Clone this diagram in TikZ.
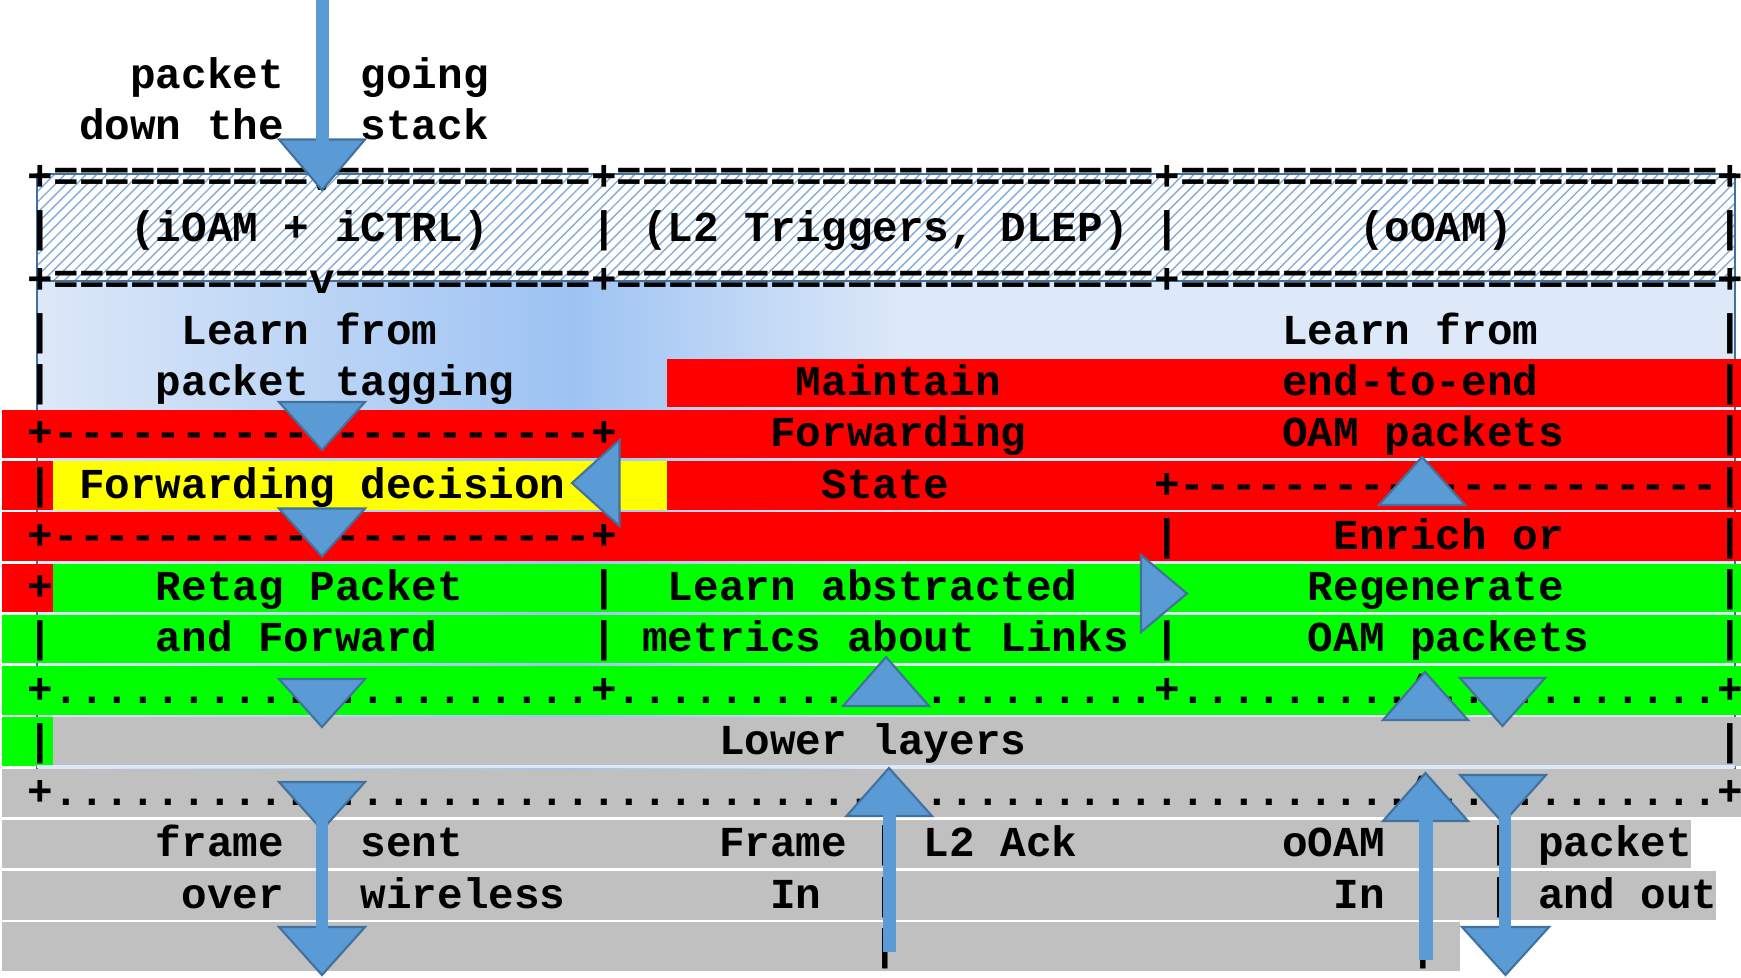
\documentclass[tikz,border=0pt]{standalone}
\usepackage{fontspec}
\setmonofont{Liberation Mono}
\usetikzlibrary{patterns}
\definecolor{arrowfill}{RGB}{91,155,213}
\definecolor{arrowline}{RGB}{65,113,156}
\definecolor{hatchblue}{RGB}{130,172,218}
\definecolor{paleblue}{RGB}{221,232,248}
\definecolor{deepblue}{RGB}{157,195,243}
\definecolor{bandred}{RGB}{255,0,0}
\definecolor{bandyellow}{RGB}{255,255,0}
\definecolor{bandgreen}{RGB}{0,255,0}
\definecolor{bandgray}{RGB}{192,192,192}
\tikzstyle{asc}     = [font=\ttfamily\bfseries\fontsize{12.135}{14.5}\selectfont, anchor=base west, inner sep=0pt]
\tikzstyle{tri}     = [fill=arrowfill, draw=arrowline, line width=0.6pt, line join=miter]
\tikzstyle{shaft}   = [fill=arrowfill]
\tikzstyle{boxline} = [draw=arrowline, line width=0.5pt]
% one row of highlight behind a text line
\newcommand\band[4]{\fill[#4] (#2,{51+51.25*#1}) rectangle (#3,{99.6+51.25*#1});}
% text placed on the character grid: name, column, row, text
\newcommand\txt[4]{\node[asc] (#1) at ({27.2+25.6*#2},{88+51.25*#3}) {#4};}

\begin{document}
\begin{tikzpicture}[x=0.01cm, y=-0.01cm]
\useasboundingbox (0,0) rectangle (1741,978);

% shaded layer box and hatched header
\shade[left color=paleblue, right color=deepblue] (37,281) rectangle (570,776);
\shade[left color=deepblue, right color=paleblue] (570,281) rectangle (900,776);
\fill[paleblue] (900,281) rectangle (1735,776);
\draw[boxline] (37,281) rectangle (1735,776);
\fill[white] (37,174) rectangle (1735,281);
\fill[pattern=north east lines, pattern color=hatchblue] (37,174) rectangle (1735,281);
\draw[boxline] (37,174) rectangle (1735,281);

% highlighted rows
\foreach \r/\c in {7/bandred, 9/bandred, 11/bandgreen, 12/bandgreen, 14/bandgray}
  {\band{\r}{1.6}{1741}{\c}}
\band{6}{667}{1741}{bandred}
\band{8}{1.6}{52.8}{bandred}
\band{8}{52.8}{667}{bandyellow}
\band{8}{667}{1741}{bandred}
\band{10}{1.6}{52.8}{bandred}
\band{10}{52.8}{1741}{bandgreen}
\band{13}{1.6}{52.8}{bandgreen}
\band{13}{52.8}{1741}{bandgray}
\band{15}{1.6}{1690.7}{bandgray}
\band{16}{1.6}{1716.3}{bandgray}
\band{17}{1.6}{1460.4}{bandgray}
\fill[paleblue] (37,764.6) rectangle (1735,768.3);

% text
\txt{packet}{4}{0}{packet}
\txt{going}{13}{0}{going}
\txt{downthe}{2}{1}{down the}
\txt{stack}{13}{1}{stack}
\txt{topedge}{0}{2}{+==========v==========+=====================+=====================+}
\txt{barA}{0}{3}{|}
\txt{ioam}{4}{3}{(iOAM + iCTRL)}
\txt{barB}{22}{3}{|}
\txt{ltrig}{24}{3}{(L2 Triggers, DLEP)}
\txt{barC}{44}{3}{|}
\txt{ooam}{52}{3}{(oOAM)}
\txt{barD}{66}{3}{|}
\txt{midedge}{0}{4}{+==========v==========+=====================+=====================+}
\txt{barE}{0}{5}{|}
\txt{learnL}{6}{5}{Learn from}
\txt{learnR}{49}{5}{Learn from}
\txt{barF}{66}{5}{|}
\txt{barG}{0}{6}{|}
\txt{tagging}{5}{6}{packet tagging}
\txt{maintain}{30}{6}{Maintain}
\txt{endtoend}{49}{6}{end-to-end}
\txt{barH}{66}{6}{|}
\txt{fwdtop}{0}{7}{+----------v----------+}
\txt{forwarding}{29}{7}{Forwarding}
\txt{oampkt}{49}{7}{OAM packets}
\txt{barI}{66}{7}{|}
\txt{barJ}{0}{8}{|}
\txt{decision}{2}{8}{Forwarding decision}
\txt{state}{31}{8}{State}
\txt{enrichtop}{44}{8}{+---------\textasciicircum-----------|}
\txt{fwdbot}{0}{9}{+----------v----------+}
\txt{barK}{44}{9}{|}
\txt{enrich}{51}{9}{Enrich or}
\txt{barL}{66}{9}{|}
\txt{plusA}{0}{10}{+}
\txt{retag}{5}{10}{Retag Packet}
\txt{barM}{22}{10}{|}
\txt{abstracted}{25}{10}{Learn abstracted}
\txt{regen}{50}{10}{Regenerate}
\txt{barN}{66}{10}{|}
\txt{barO}{0}{11}{|}
\txt{andfwd}{5}{11}{and Forward}
\txt{barP}{22}{11}{|}
\txt{metrics}{24}{11}{metrics about Links}
\txt{barQ}{44}{11}{|}
\txt{oampktB}{50}{11}{OAM packets}
\txt{barR}{66}{11}{|}
\txt{dotsA}{0}{12}{+..........v..........+..........\textasciicircum..........+.........\textasciicircum..v........+}
\txt{barS}{0}{13}{|}
\txt{lower}{27}{13}{Lower layers}
\txt{barT}{66}{13}{|}
\txt{dotsB}{0}{14}{+..........v.....................\textasciicircum....................\textasciicircum..v........+}
\txt{frame}{5}{15}{frame}
\txt{sent}{13}{15}{sent}
\txt{framein}{27}{15}{Frame}
\txt{barU}{33}{15}{|}
\txt{ack}{35}{15}{L2 Ack}
\txt{ooamin}{49}{15}{oOAM}
\txt{barV}{54}{15}{|}
\txt{barW}{57}{15}{|}
\txt{pktout}{59}{15}{packet}
\txt{over}{6}{16}{over}
\txt{wireless}{13}{16}{wireless}
\txt{inA}{29}{16}{In}
\txt{barX}{33}{16}{|}
\txt{inB}{51}{16}{In}
\txt{barY}{54}{16}{|}
\txt{barZ}{57}{16}{|}
\txt{andout}{59}{16}{and out}
\txt{tailA}{33}{17}{|}
\txt{tailB}{54}{17}{|}

% arrows and arrow heads
\draw[tri] (279,139.5) -- (365,139.5) -- (322,190) -- cycle;
\fill[shaft] (315.5,0) rectangle (328.5,141);
\draw[tri] (279,402) -- (365,402) -- (322,450) -- cycle;
\draw[tri] (619.5,440) -- (619.5,526) -- (572,483) -- cycle;
\draw[tri] (279,508.5) -- (365,508.5) -- (322,556.5) -- cycle;
\draw[tri] (1379,505) -- (1465,505) -- (1422,457) -- cycle;
\draw[tri] (1141,555) -- (1141,632) -- (1187,593.5) -- cycle;
\draw[tri] (279,679) -- (365,679) -- (322,727) -- cycle;
\draw[tri] (843,706) -- (929,706) -- (886,657) -- cycle;
\draw[tri] (1383,720) -- (1468,720) -- (1425,672) -- cycle;
\draw[tri] (1460,678) -- (1545,678) -- (1502.5,726) -- cycle;
% frame sent over wireless
\draw[tri] (279,782) -- (365,782) -- (322,830) -- cycle;
\draw[tri] (279,927) -- (365,927) -- (322,975) -- cycle;
\fill[shaft] (315.8,818) rectangle (328.2,929);
% frame in
\draw[tri] (846.5,816) -- (932,816) -- (889,768) -- cycle;
\fill[shaft] (883,814) rectangle (895.5,952);
% oOAM in
\draw[tri] (1383,821) -- (1468,821) -- (1425.5,773) -- cycle;
\fill[shaft] (1419.3,819) rectangle (1432.7,960);
% packet out
\draw[tri] (1460,775) -- (1546,775) -- (1503,823) -- cycle;
\draw[tri] (1462,927) -- (1549,927) -- (1505.5,975) -- cycle;
\fill[shaft] (1498.8,812) rectangle (1511.2,929);
\end{tikzpicture}
\end{document}
